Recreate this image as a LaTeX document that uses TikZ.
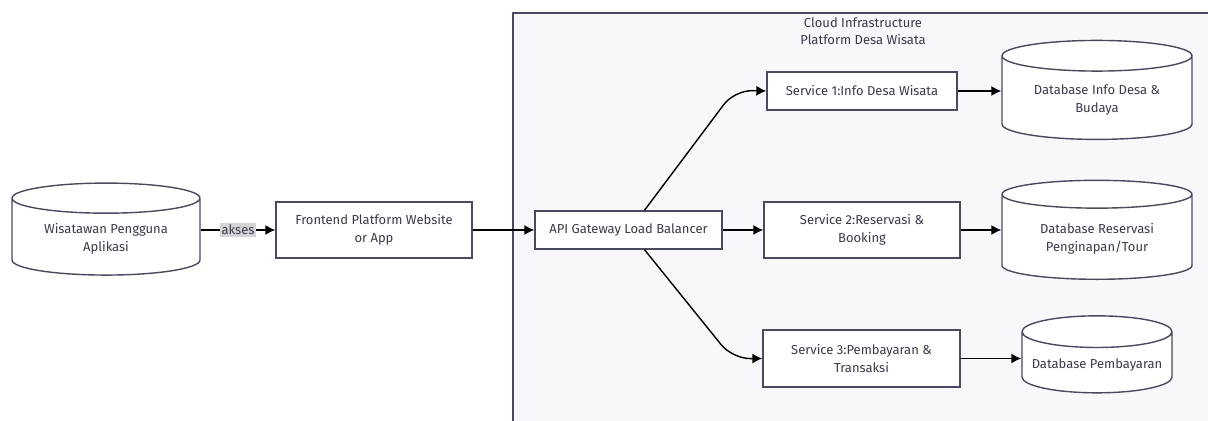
\documentclass[tikz,border=0pt]{standalone}
\usepackage{fontspec}
\setmainfont{Fira Sans}
\usetikzlibrary{arrows.meta,positioning,shapes.geometric}
\definecolor{edgegray}{HTML}{4A4A5E}
\definecolor{txtgray}{HTML}{3A3A4A}
\definecolor{clusterfill}{HTML}{F8F8FB}
\definecolor{labelfill}{HTML}{D4D4D4}

\begin{document}
\begin{tikzpicture}[x=0.02cm, y=-0.02cm,
    every node/.style={font=\fontsize{7.4}{10}\selectfont, text=txtgray},
    box/.style={draw=edgegray, line width=0.8pt, fill=white, align=center, inner sep=2pt},
    db/.style={cylinder, shape border rotate=90, aspect=0.23, draw=edgegray, line width=0.8pt, fill=white, align=center, inner sep=2pt},
    link/.style={-{Latex[length=2mm,width=2mm]}, line width=0.8pt, black}]

    \useasboundingbox (0,0) rectangle (1208,421);
    \fill[white] (0,0) rectangle (1208,421);

    % cloud cluster
    \draw[draw=edgegray, fill=clusterfill, line width=0.8pt] (513,13) rectangle (1230,440);
    \node[align=center] (title) at (863,31) {Cloud Infrastructure\\Platform Desa Wisata};

    \node[db, minimum width=3.76cm, minimum height=1.84cm] (user) at (106,239) {Wisatawan Pengguna\\Aplikasi};
    \node[box, minimum width=3.92cm, minimum height=1.12cm] (front) at (374,230) {Frontend Platform Website\\or App};
    \node[box, minimum width=3.74cm, minimum height=0.76cm] (api) at (628.5,230) {API Gateway Load Balancer};

    \node[box, minimum width=3.8cm, minimum height=0.76cm] (s1) at (862,91) {Service 1:Info Desa Wisata};
    \node[box, minimum width=3.92cm, minimum height=1.12cm] (s2) at (862,230) {Service 2:Reservasi \&\\Booking};
    \node[box, minimum width=3.94cm, minimum height=1.14cm] (s3) at (861.5,358.5) {Service 3:Pembayaran \&\\Transaksi};

    \node[db, minimum width=3.8cm, minimum height=1.98cm] (db1) at (1097,100) {Database Info Desa \&\\Budaya};
    \node[db, minimum width=3.8cm, minimum height=1.98cm] (db2) at (1097,239) {Database Reservasi\\Penginapan/Tour};
    \node[db, minimum width=3.0cm, minimum height=1.54cm] (db3) at (1097,365) {Database Pembayaran};

    \draw[link] (user.east |- front.west) -- node[fill=labelfill, inner sep=1pt] {akses} (front.west);
    \draw[link] (front.east) -- (api.west);
    \draw[link, rounded corners=10] ([xshift=0.32cm]api.north) -- ++(90,-120) -- (s1.west);
    \draw[link] (api.east) -- (s2.west);
    \draw[link, rounded corners=10] ([xshift=0.32cm]api.south) -- ++(88,109) -- (s3.west);
    \draw[link] (s1.east) -- (s1.east -| db1.west);
    \draw[link] (s2.east) -- (s2.east -| db2.west);
    \draw[link] (s3.east) -- (s3.east -| db3.west);
\end{tikzpicture}
\end{document}
